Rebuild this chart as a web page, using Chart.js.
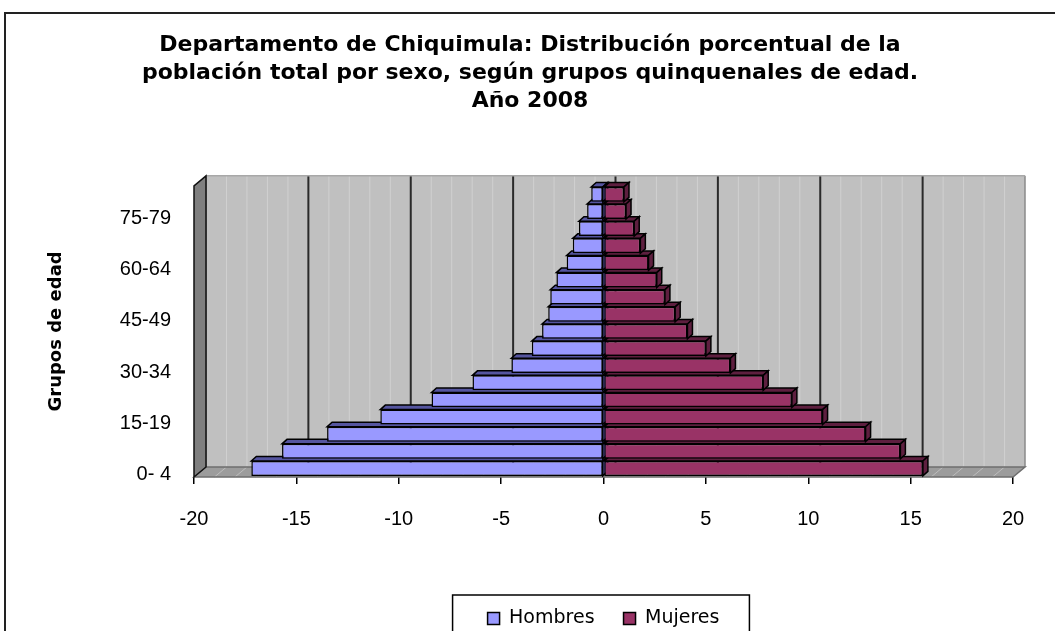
<!DOCTYPE html>
<html>
<head>
<meta charset="utf-8">
<script src="https://cdn.jsdelivr.net/npm/chart.js@4.4.1/dist/chart.umd.min.js"></script>
<style>
  html, body { margin: 0; padding: 0; background: #fff; overflow: hidden; }
</style>
</head>
<body>
<canvas id="pyramid" width="1055" height="631"></canvas>
<script>
// age groups, bottom to top
const ageGroups = ['0- 4', '5-9', '10-14', '15-19', '20-24', '25-29', '30-34', '35-39', '40-44',
                   '45-49', '50-54', '55-59', '60-64', '65-69', '70-74', '75-79', '80 y más'];
// percentages (men negative so they go left)
const hombres = [-17.2, -15.7, -13.5, -10.9, -8.4, -6.4, -4.5, -3.5, -3.0,
                 -2.7, -2.6, -2.3, -1.8, -1.5, -1.2, -0.8, -0.6];
const mujeres = [15.6, 14.5, 12.8, 10.7, 9.2, 7.8, 6.2, 5.0, 4.1,
                 3.5, 3.0, 2.6, 2.2, 1.8, 1.5, 1.1, 1.0];
const titleLines = [
  'Departamento de Chiquimula: Distribución porcentual de la',
  'población total por sexo, según grupos quinquenales de edad.',
  'Año 2008'
];
const xTicks = { min: -20, max: 20, step: 5 };

const FONT = 'DejaVu Sans';
const TICK_FONT = 'Liberation Sans';
const sideColors = ['#55559f', '#5e1f3f'];

function poly(ctx, pts, fill, stroke) {
  ctx.beginPath();
  ctx.moveTo(pts[0][0], pts[0][1]);
  for (let i = 1; i < pts.length; i++) ctx.lineTo(pts[i][0], pts[i][1]);
  ctx.closePath();
  if (fill) { ctx.fillStyle = fill; ctx.fill(); }
  if (stroke) { ctx.strokeStyle = stroke; ctx.stroke(); }
}

// excel-like 3d walls, floor and bar depth
const walls3d = {
  id: 'walls3d',
  beforeDatasetsDraw(chart) {
    const { ctx, chartArea: a, scales: { x } } = chart;
    const dx = 12, dy = -10;
    ctx.save();
    // back wall
    ctx.fillStyle = '#c0c0c0';
    ctx.fillRect(a.left + dx, a.top + dy, a.right - a.left, a.bottom - a.top);
    for (let v = xTicks.min; v <= xTicks.max; v++) {
      const px = x.getPixelForValue(v) + dx;
      ctx.beginPath();
      ctx.moveTo(px, a.top + dy);
      ctx.lineTo(px, a.bottom + dy);
      if (v % 5 === 0 && Math.abs(v) < 20) {
        ctx.strokeStyle = '#2a2a2a'; ctx.lineWidth = 2;
      } else if (Math.abs(v) === 20) {
        ctx.strokeStyle = '#8a8a8a'; ctx.lineWidth = 1.5;
      } else {
        ctx.strokeStyle = '#d0d0d0'; ctx.lineWidth = 1;
      }
      ctx.stroke();
    }
    ctx.lineWidth = 1.5;
    ctx.strokeStyle = '#a8a8a8';
    ctx.beginPath();
    ctx.moveTo(a.left + dx, a.top + dy);
    ctx.lineTo(a.right + dx, a.top + dy);
    ctx.stroke();

    // floor
    ctx.lineWidth = 1;
    poly(ctx, [[a.left, a.bottom], [a.right, a.bottom], [a.right + dx, a.bottom + dy], [a.left + dx, a.bottom + dy]], '#9c9c9c', null);
    ctx.strokeStyle = '#bdbdbd';
    for (let v = xTicks.min + 1; v < xTicks.max; v++) {
      const px = x.getPixelForValue(v);
      ctx.beginPath();
      ctx.moveTo(px, a.bottom);
      ctx.lineTo(px + dx, a.bottom + dy);
      ctx.stroke();
    }
    ctx.lineWidth = 1.5;
    poly(ctx, [[a.left, a.bottom], [a.right, a.bottom], [a.right + dx, a.bottom + dy], [a.left + dx, a.bottom + dy]], null, '#6e6e6e');

    // left side wall
    ctx.lineWidth = 1.5;
    poly(ctx, [[a.left, a.bottom], [a.left, a.top], [a.left + dx, a.top + dy], [a.left + dx, a.bottom + dy]], '#7f7f7f', '#111');

    // bar depth faces
    const bx = 5, by = -4.5;
    ctx.lineWidth = 1.5;
    chart.data.datasets.forEach((ds, di) => {
      const meta = chart.getDatasetMeta(di);
      meta.data.forEach(bar => {
        const p = bar.getProps(['x', 'y', 'base', 'height'], true);
        const l = Math.min(p.x, p.base), r = Math.max(p.x, p.base);
        const t = p.y - p.height / 2, b = p.y + p.height / 2;
        poly(ctx, [[l, t], [r, t], [r + bx, t + by], [l + bx, t + by]], sideColors[di], '#000');
        poly(ctx, [[r, t], [r, b], [r + bx, b + by], [r + bx, t + by]], sideColors[di], '#000');
      });
    });
    ctx.restore();
  }
};

// outer frame and legend box
const frames = {
  id: 'frames',
  afterDraw(chart) {
    const { ctx } = chart;
    ctx.save();
    ctx.lineWidth = 2;
    ctx.strokeStyle = '#222';
    ctx.strokeRect(5, 13, 1200, 800);
    const hb = chart.legend.legendHitBoxes;
    if (hb && hb.length) {
      const first = hb[0], last = hb[hb.length - 1];
      const l = first.left - 35, r = last.left + last.width + 30, t = first.top - 14;
      ctx.lineWidth = 1.5;
      ctx.strokeStyle = '#000';
      ctx.strokeRect(l, t, r - l, 200);
    }
    ctx.restore();
  }
};

new Chart(document.getElementById('pyramid'), {
  type: 'bar',
  data: {
    labels: ageGroups,
    datasets: [
      { label: 'Hombres', data: hombres, backgroundColor: '#9999ff', borderColor: '#000', borderWidth: 1.5,
        borderSkipped: false, barPercentage: 0.87, categoryPercentage: 1 },
      { label: 'Mujeres', data: mujeres, backgroundColor: '#993366', borderColor: '#000', borderWidth: 1.5,
        borderSkipped: false, barPercentage: 0.87, categoryPercentage: 1 }
    ]
  },
  options: {
    indexAxis: 'y',
    responsive: false,
    animation: false,
    layout: { padding: { top: 0, left: 47, right: 42, bottom: -7 } },
    plugins: {
      title: {
        display: true,
        text: titleLines,
        color: '#000',
        font: { family: FONT, size: 22, weight: 'bold', lineHeight: 1.27 },
        padding: { top: 31, bottom: 71 }
      },
      legend: {
        position: 'bottom',
        fullSize: false,
        labels: { color: '#000', font: { family: FONT, size: 19 }, boxWidth: 12, boxHeight: 12, padding: 29 }
      },
      tooltip: { enabled: false }
    },
    scales: {
      x: {
        stacked: true,
        min: xTicks.min,
        max: xTicks.max,
        ticks: { stepSize: xTicks.step, color: '#000', font: { family: TICK_FONT, size: 20 }, padding: 23 },
        grid: { drawOnChartArea: false, color: '#000', lineWidth: 1.5, tickLength: 7 },
        border: { display: false },
        afterFit(s) { s.height = 103; }
      },
      y: {
        stacked: true,
        reverse: true,
        grid: { display: false, drawTicks: false },
        border: { display: false },
        ticks: {
          autoSkip: false,
          padding: 23,
          labelOffset: 6.5,
          color: '#000',
          font: { family: TICK_FONT, size: 20 },
          callback(v, i) { return i % 3 === 0 ? this.getLabelForValue(v) : ''; }
        },
        title: {
          display: true,
          text: 'Grupos de edad',
          color: '#000',
          font: { family: FONT, size: 18, weight: 'bold', lineHeight: 1 },
          padding: { top: 0, bottom: 0 }
        },
        afterFit(s) { s.width = 147; }
      }
    }
  },
  plugins: [walls3d, frames]
});
</script>
</body>
</html>
